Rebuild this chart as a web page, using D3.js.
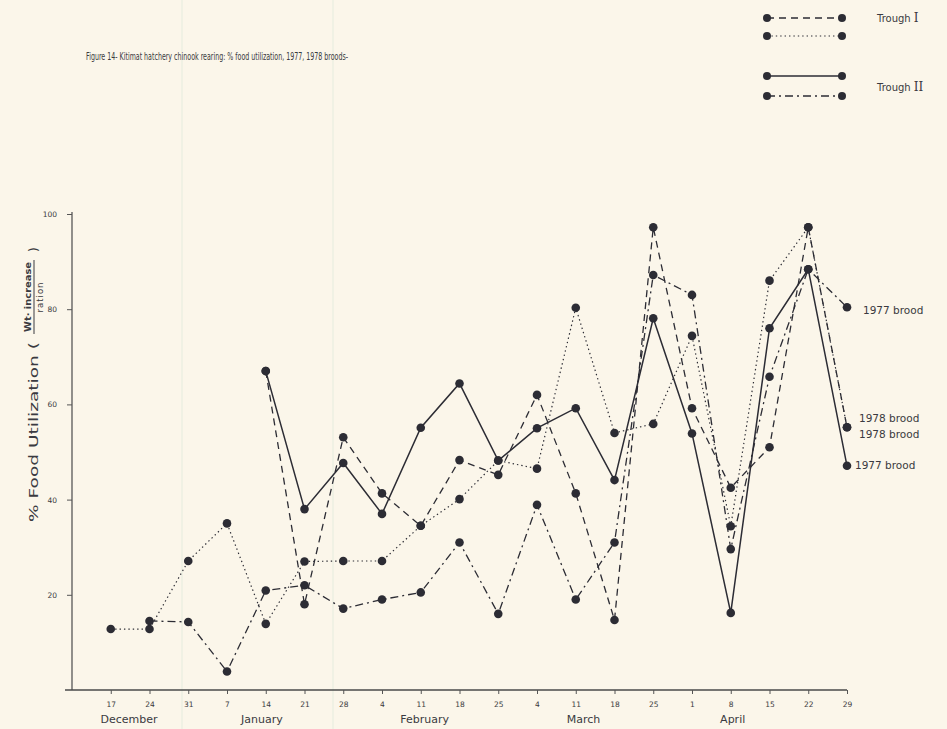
<!DOCTYPE html>
<html>
<head>
<meta charset="utf-8">
<script src="https://cdn.jsdelivr.net/npm/d3@7"></script>
<style>
  html, body { margin: 0; padding: 0; background: #fbf6ea; }
  svg { display: block; }
  text { font-family: "DejaVu Sans", "Liberation Sans", sans-serif; fill: #3a3a40; }
</style>
</head>
<body>
<svg id="chart" width="947" height="729"></svg>
<script>
// Weekly sampling dates, 17 Dec to 29 Apr
const weekLabels = ["17","24","31","7","14","21","28","4","11","18","25","4","11","18","25","1","8","15","22","29"];
const monthNames = ["December","January","February","March","April"];
const yTicks = [20, 40, 60, 80, 100];

// % food utilization per week (null = not sampled)
const troughIDashed  = [null,null,null,null,67,18,53.1,41.3,34.5,48.3,45.2,62,41.3,14.7,97.2,59.2,42.5,51,97.2,55.2];
const troughIDotted  = [12.8,12.8,27.1,35,13.9,27,27.1,27.1,34.5,40.1,48.2,46.5,80.3,54,55.9,74.4,34.4,86,97.2,55.2];
const troughIISolid  = [null,null,null,null,67,38,47.7,37,55.1,64.4,48.2,55,59.2,44.1,78.1,53.9,16.2,76,88.4,47.1];
const troughIIDashDot = [null,14.5,14.3,3.9,20.9,22,17.1,19,20.5,31,16,38.9,19,31,87.2,83,29.6,65.8,88.4,80.4];

const series = [
  { values: troughIDashed,   dash: "7,5",     width: 1.3, label: "1978 brood", dy: -9, dx: 12 },
  { values: troughIDotted,   dash: "1.4,3",   width: 1.2, label: "1978 brood", dy: 7,  dx: 12 },
  { values: troughIISolid,   dash: null,      width: 1.5, label: "1977 brood", dy: 0,  dx: 8 },
  { values: troughIIDashDot, dash: "8,4,2,4", width: 1.3, label: "1977 brood", dy: 3,  dx: 16 }
];

const svg = d3.select("#chart");
const ink = "#2c2c34";

// faint fold marks in the paper
[182, 333].forEach(x => {
  svg.append("line").attr("x1", x).attr("x2", x).attr("y1", 0).attr("y2", 729)
    .attr("stroke", "#eaefdf").attr("stroke-width", 1.2);
});

const x = d3.scaleLinear().domain([-1, 19]).range([72, 847]);
const y = d3.scaleLinear().domain([0, 100]).range([690, 214]);

// Title
svg.append("text")
  .attr("x", 86).attr("y", 60)
  .attr("font-size", 10.5)
  .attr("textLength", 262).attr("lengthAdjust", "spacingAndGlyphs")
  .text("Figure 14- Kitimat hatchery chinook rearing: % food utilization, 1977, 1978 broods-");

// Y axis
const yAxis = d3.axisLeft(y).tickValues(yTicks).tickSize(5).tickPadding(10).tickFormat(d3.format("d"));
const gy = svg.append("g").attr("transform", "translate(72,0)").call(yAxis);
gy.select(".domain").attr("stroke", "#4a4a4a").attr("stroke-width", 1.2).attr("d", "M0,690V212");
gy.selectAll(".tick line").attr("stroke", "#555");
gy.selectAll(".tick text").attr("font-size", 7.5).attr("fill", "#8a8a8a");

// X axis
const xAxis = d3.axisBottom(x).tickValues(d3.range(weekLabels.length)).tickSize(4).tickPadding(8)
  .tickFormat(i => weekLabels[i]);
const gx = svg.append("g").attr("transform", "translate(0,690)").call(xAxis);
gx.select(".domain").attr("stroke", "#4a4a4a").attr("stroke-width", 1.3).attr("d", "M65,0H847");
gx.selectAll(".tick line").attr("stroke", "#555");
gx.selectAll(".tick text").attr("font-size", 7.5).attr("fill", "#4a4a50");

// Month names beneath the week numbers
const monthAt = [0.47, 3.9, 8.1, 12.2, 16.05];
svg.append("g").selectAll("text").data(monthNames).join("text")
  .attr("x", (d, i) => x(monthAt[i]))
  .attr("y", 723)
  .attr("text-anchor", "middle")
  .attr("font-size", 11)
  .text(d => d);

// Y axis title, rotated
const yt = svg.append("g").attr("transform", "translate(38,522) rotate(-90)");
yt.append("text").attr("x", 0).attr("y", 0).attr("font-size", 12)
  .attr("textLength", 180).attr("lengthAdjust", "spacingAndGlyphs")
  .text("% Food Utilization (");
yt.append("text").attr("x", 190).attr("y", -7).attr("font-size", 8.5).attr("font-weight", "bold")
  .attr("textLength", 70).attr("lengthAdjust", "spacingAndGlyphs")
  .text("Wt· increase");
yt.append("line").attr("x1", 188).attr("x2", 262).attr("y1", -4).attr("y2", -4)
  .attr("stroke", "#3a3a40").attr("stroke-width", 1);
yt.append("text").attr("x", 225).attr("y", 5).attr("font-size", 8.5).attr("text-anchor", "middle")
  .attr("letter-spacing", 1).text("ration");
yt.append("text").attr("x", 270).attr("y", 0).attr("font-size", 12).text(")");

// Lines and markers
const line = d3.line()
  .x(d => x(d.i))
  .y(d => y(d.v));

series.forEach(s => {
  const pts = s.values.map((v, i) => ({ v, i })).filter(d => d.v != null);
  svg.append("path")
    .datum(pts)
    .attr("fill", "none")
    .attr("stroke", ink)
    .attr("stroke-width", s.width)
    .attr("stroke-dasharray", s.dash)
    .attr("d", line);
});

series.forEach(s => {
  svg.append("g").selectAll("circle")
    .data(s.values.map((v, i) => ({ v, i })).filter(d => d.v != null))
    .join("circle")
    .attr("cx", d => x(d.i)).attr("cy", d => y(d.v))
    .attr("r", 4.3).attr("fill", ink);
});

// Brood labels at the series ends
series.forEach(s => {
  const last = s.values.length - 1;
  svg.append("text")
    .attr("x", x(last) + s.dx)
    .attr("y", y(s.values[last]) + s.dy)
    .attr("dy", "0.35em")
    .attr("font-size", 10.5)
    .text(s.label);
});

// Legend
const legendRows = [
  { dash: "7,5", width: 1.3, y: 18 },
  { dash: "1.4,3", width: 1.2, y: 36 },
  { dash: null, width: 1.5, y: 76 },
  { dash: "8,4,2,4", width: 1.3, y: 96 }
];
const lg = svg.append("g");
legendRows.forEach(r => {
  lg.append("line").attr("x1", 767).attr("x2", 842).attr("y1", r.y).attr("y2", r.y)
    .attr("stroke", ink).attr("stroke-width", r.width).attr("stroke-dasharray", r.dash);
  lg.append("circle").attr("cx", 767).attr("cy", r.y).attr("r", 4).attr("fill", ink);
  lg.append("circle").attr("cx", 842).attr("cy", r.y).attr("r", 4).attr("fill", ink);
});
const t1 = lg.append("text").attr("x", 877).attr("y", 18).attr("dy", "0.35em").attr("font-size", 10);
t1.append("tspan").text("Trough ");
t1.append("tspan").attr("font-family", "DejaVu Serif").attr("font-size", 12).text("I");
const t2 = lg.append("text").attr("x", 877).attr("y", 87).attr("dy", "0.35em").attr("font-size", 10);
t2.append("tspan").text("Trough ");
t2.append("tspan").attr("font-family", "DejaVu Serif").attr("font-size", 12).text("II");
</script>
</body>
</html>
